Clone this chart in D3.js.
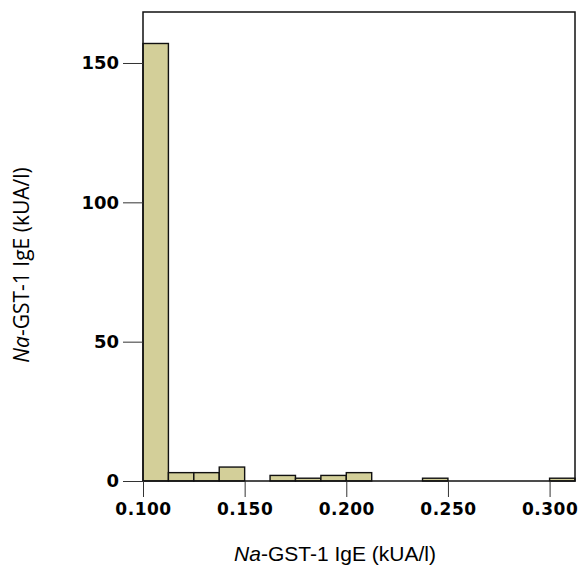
<!DOCTYPE html>
<html>
<head>
<meta charset="utf-8">
<script src="https://cdn.jsdelivr.net/npm/d3@7"></script>
<style>
  body { margin: 0; background: #fff; }
  svg { display: block; }
</style>
</head>
<body>
<svg id="chart" width="580" height="567"></svg>
<script>
// histogram bins (left edges) and counts
const binWidth = 0.0125;
const binStarts = [0.1, 0.1125, 0.125, 0.1375, 0.15, 0.1625, 0.175, 0.1875, 0.2, 0.2125,
                   0.225, 0.2375, 0.25, 0.2625, 0.275, 0.2875, 0.3];
const counts = [157, 3, 3, 5, 0, 2, 1, 2, 3, 0, 0, 1, 0, 0, 0, 0, 1];
const xTicks = [0.1, 0.15, 0.2, 0.25, 0.3];
const yTicks = [0, 50, 100, 150];

const margin = { top: 12, right: 5, bottom: 86, left: 143 };
const width = 580 - margin.left - margin.right;
const height = 567 - margin.top - margin.bottom;

const svg = d3.select('#chart');
const g = svg.append('g').attr('transform', `translate(${margin.left},${margin.top})`);

const x = d3.scaleLinear().domain([0.1, 0.3125]).range([0, width]);
const y = d3.scaleLinear().domain([0, 168.3]).range([height, 0]);

// bars
g.selectAll('rect.bar')
  .data(binStarts.map((s, i) => ({ s, c: counts[i] })).filter(d => d.c > 0))
  .join('rect')
  .attr('class', 'bar')
  .attr('x', d => x(d.s))
  .attr('y', d => y(d.c))
  .attr('width', d => x(d.s + binWidth) - x(d.s))
  .attr('height', d => y(0) - y(d.c))
  .attr('fill', '#d3cf99')
  .attr('stroke', '#111')
  .attr('stroke-width', 1.4);

// frame
g.append('rect')
  .attr('width', width).attr('height', height)
  .attr('fill', 'none').attr('stroke', '#111').attr('stroke-width', 1.5);

// y axis
const yAxis = g.append('g').call(
  d3.axisLeft(y).tickValues(yTicks).tickSize(20).tickPadding(4).tickFormat(d3.format('d'))
);
yAxis.select('.domain').remove();
yAxis.selectAll('.tick line').attr('stroke', '#333');
yAxis.selectAll('.tick text')
  .attr('fill', '#000')
  .style('font-family', 'DejaVu Sans')
  .style('font-weight', 'bold')
  .style('font-size', '18px');

// x axis
const xAxis = g.append('g').attr('transform', `translate(0,${height})`).call(
  d3.axisBottom(x).tickValues(xTicks).tickSize(16).tickPadding(6).tickFormat(d3.format('.3f'))
);
xAxis.select('.domain').remove();
xAxis.selectAll('.tick line').attr('stroke', '#333');
xAxis.selectAll('.tick text')
  .attr('fill', '#000')
  .style('font-family', 'DejaVu Sans')
  .style('font-weight', 'bold')
  .style('font-size', '17px')
  .style('letter-spacing', '0.5px');

// axis titles
const xt = svg.append('text')
  .attr('x', 335).attr('y', 561)
  .attr('text-anchor', 'middle')
  .style('font-family', 'Liberation Sans')
  .style('font-size', '21px');
xt.append('tspan').style('font-style', 'italic').text('Na');
xt.append('tspan').text('-GST-1 IgE (kUA/l)');

const yt = svg.append('text')
  .attr('transform', 'translate(29,265) rotate(-90)')
  .attr('text-anchor', 'middle')
  .style('font-family', 'Open Sans')
  .style('font-size', '21px');
yt.append('tspan').style('font-style', 'italic').text('Na');
yt.append('tspan').text('-GST-1 IgE (kUA/l)');
</script>
</body>
</html>
